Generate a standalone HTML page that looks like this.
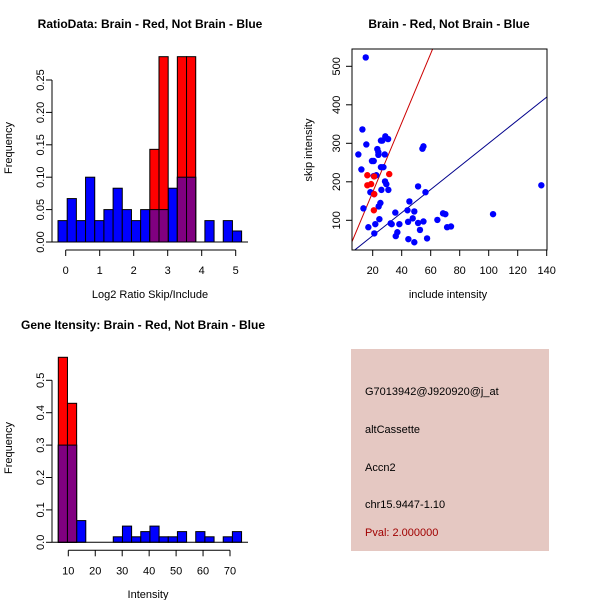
<!DOCTYPE html>
<html><head><meta charset="utf-8"><style>
body{margin:0;background:#fff}
svg{display:block;font-family:"Liberation Sans",sans-serif}
</style></head><body>
<svg id="c" width="600" height="600" viewBox="0 0 600 600">
<rect width="600" height="600" fill="#fff"/>
<g>
<rect x="351" y="349" width="198" height="202" fill="#e5c8c2"/>
<text x="365" y="395" font-size="11">G7013942@J920920@j_at</text>
<text x="365" y="433" font-size="11">altCassette</text>
<text x="365" y="471" font-size="11">Accn2</text>
<text x="365" y="508" font-size="11">chr15.9447-1.10</text>
<text x="365" y="536" font-size="11" fill="#a00000">Pval: 2.000000</text>
</g>
</svg>
<script>
// ---- Ratio histogram data ----
const ratioBinStart = -0.226, ratioBinWidth = 0.27;
const ratioBlue = [0.033,0.067,0.033,0.1,0.033,0.05,0.083,0.05,0.033,0.05,0.05,0.05,0.083,0.1,0.1,0,0.033,0,0.033,0.017];
const ratioRed  = [0,0,0,0,0,0,0,0,0,0,0.143,0.286,0,0.286,0.286,0,0,0,0,0];
const ratioXTicks = [0,1,2,3,4,5];
const ratioYTicks = ["0.00","0.05","0.10","0.15","0.20","0.25"];
// ---- Intensity histogram data ----
const intBinStart = 6.29, intBinWidth = 3.4;
const intBlue = [0.3,0.3,0.067,0,0,0,0.017,0.05,0.017,0.033,0.05,0.017,0.017,0.033,0,0.033,0.017,0,0.017,0.033];
const intRed  = [0.571,0.429,0,0,0,0,0,0,0,0,0,0,0,0,0,0,0,0,0,0];
const intXTicks = [10,20,30,40,50,60,70];
const intYTicks = ["0.0","0.1","0.2","0.3","0.4","0.5"];
// ---- Scatter data ----
const blueX = [15.2,12.9,15.6,10.1,12.2,19.5,20.7,23.2,23.9,23.9,25.7,26.6,28.7,30.6,28.3,25.7,27.4,22.5,20.7,28.5,29.4,30.8,26,18.4,21,25.3,24.1,13.6,24.6,21.8,17,21.1,32.4,33.1,35.6,38.4,37,35.9,44.6,48.7,44.4,47.6,44,48.7,45.3,51.3,52.6,51.3,55,56.4,54.3,55,57.5,64.6,68.5,70.1,71.3,74,103,136.3];
const blueY = [523,336,297,271,232,254,254,285,277,270,307,307,318,311,271,238,238,217,215,201,194,179,179,173,168,145,136,131,103,90,82,66,92,90,120,90,69,59,51,43,96,105,126,123,149,188,75,93,97,173,286,292,53,101,118,116,82,84,116,191];
const redX = [16.3,16.3,18.9,21,21,20.8,31.4];
const redY = [217,191,194,214,168,126,220];
const redLine = [9, -7];   // slope, intercept
const blueLine = [3, 0];
const scXTicks = [20,40,60,80,100,120,140];
const scYTicks = [100,200,300,400,500];

const svg = document.getElementById('c');
const NS = 'http://www.w3.org/2000/svg';
function mk(tag, attrs, parent){const e=document.createElementNS(NS,tag);for(const k in attrs)e.setAttribute(k,attrs[k]);(parent||svg).appendChild(e);return e;}
function txt(x,y,s,size,extra,parent){const t=mk('text',Object.assign({x:x,y:y,'font-size':size,'text-anchor':'middle'},extra||{}),parent);t.textContent=s;return t;}

function hist(g, cfg){
  const sx=v=>cfg.x0+(v-cfg.vx0)*cfg.kx, sy=v=>cfg.y0-v*cfg.ky;
  for(let i=0;i<cfg.blue.length;i++){
    const l=sx(cfg.start+i*cfg.w), r=sx(cfg.start+(i+1)*cfg.w);
    const b=cfg.blue[i];
    if(b>0){const e=mk('rect',{x:l,y:sy(b),width:r-l,height:sy(0)-sy(b),fill:'#0000ff',stroke:'#000','stroke-width':1},g);
      
      }
  }
  for(let i=0;i<cfg.red.length;i++){
    const rv=cfg.red[i]; if(!(rv>0))continue;
    const l=sx(cfg.start+i*cfg.w), r=sx(cfg.start+(i+1)*cfg.w);
    const e=mk('rect',{x:l,y:sy(rv),width:r-l,height:sy(0)-sy(rv),fill:'#ff0000',stroke:'#000','stroke-width':1},g);
    
    
    const m=Math.min(rv,cfg.blue[i]);
    if(m>0){const p=mk('rect',{x:l,y:sy(m),width:r-l,height:sy(0)-sy(m),fill:'#800080',stroke:'#000','stroke-width':1},g);
      
      }
  }
  mk('line',{x1:cfg.plotL,x2:cfg.plotR,y1:sy(0),y2:sy(0),stroke:'#000'},g);
  const yv=cfg.yTicks.map(Number);
  mk('line',{x1:52,x2:52,y1:sy(yv[0]),y2:sy(yv[yv.length-1]),stroke:'#000'},g);
  cfg.yTicks.forEach(t=>{const y=sy(+t);mk('line',{x1:46,x2:52,y1:y,y2:y,stroke:'#000'},g);
    const e=txt(44,y,t,11,{transform:`rotate(-90 44 ${y})`},g);
    
    });
  const xa=cfg.y0+8;
  mk('line',{x1:sx(cfg.xTicks[0]),x2:sx(cfg.xTicks[cfg.xTicks.length-1]),y1:xa,y2:xa,stroke:'#000'},g);
  cfg.xTicks.forEach(t=>{const x=sx(t);mk('line',{x1:x,x2:x,y1:xa,y2:xa+6,stroke:'#000'},g);
    const e=txt(x,xa+24,String(t),11,{},g);
    
    });
}

const g1=mk('g',{});  
hist(g1,{x0:65.7,vx0:0,kx:34,y0:242,ky:648,start:ratioBinStart,w:ratioBinWidth,blue:ratioBlue,red:ratioRed,xTicks:ratioXTicks,yTicks:ratioYTicks,plotL:52,plotR:248});
let t;
t=txt(150,28,'RatioData: Brain - Red, Not Brain - Blue',12,{'font-weight':'bold'},g1);  
t=txt(150,298,'Log2 Ratio Skip/Include',11,{},g1);  
t=txt(12,148,'Frequency',11,{transform:'rotate(-90 12 148)'},g1);  

const g3=mk('g',{});  
hist(g3,{x0:68.3,vx0:10,kx:2.695,y0:542.3,ky:324,start:intBinStart,w:intBinWidth,blue:intBlue,red:intRed,xTicks:intXTicks,yTicks:intYTicks,plotL:52,plotR:248});
t=txt(143,329,'Gene Itensity: Brain - Red, Not Brain - Blue',12,{'font-weight':'bold'},g3);  
t=txt(148,598,'Intensity',11,{},g3);  
t=txt(12,448,'Frequency',11,{transform:'rotate(-90 12 448)'},g3);  

const g2=mk('g',{});  
const L=352,R=547,T=49,B=250;
const sx=v=>343.7+v*1.45, sy=v=>258.8-v*0.385;
mk('clipPath',{id:'cp'},g2); mk('rect',{x:L,y:T,width:R-L,height:B-T},g2.lastChild);
const cg=mk('g',{'clip-path':'url(#cp)'},g2);
function line(p,col,name){const x1=0,x2=150;const e=mk('line',{x1:sx(x1),y1:sy(p[0]*x1+p[1]),x2:sx(x2),y2:sy(p[0]*x2+p[1]),stroke:col,'stroke-width':1},cg);
  
  }
line(redLine,'#cc0000','red-fit-line');
line(blueLine,'#00008b','blue-fit-line');
blueX.forEach((x,i)=>{const e=mk('circle',{cx:sx(x),cy:sy(blueY[i]),r:3.2,fill:'#0000ff'},cg);
  
  });
redX.forEach((x,i)=>{const e=mk('circle',{cx:sx(x),cy:sy(redY[i]),r:3.2,fill:'#ff0000'},cg);
  
  });
mk('rect',{x:L,y:T,width:R-L,height:B-T,fill:'none',stroke:'#000'},g2);
scXTicks.forEach(v=>{const x=sx(v);mk('line',{x1:x,x2:x,y1:B,y2:B+6,stroke:'#000'},g2);
  const e=txt(x,B+24,String(v),11,{},g2);
  
  });
scYTicks.forEach(v=>{const y=sy(v);mk('line',{x1:L-6,x2:L,y1:y,y2:y,stroke:'#000'},g2);
  const e=txt(340,y,String(v),11,{transform:`rotate(-90 340 ${y})`},g2);
  
  });
t=txt(449,28,'Brain - Red, Not Brain - Blue',12,{'font-weight':'bold'},g2);  
t=txt(448,298,'include intensity',11,{},g2);  
t=txt(312,150,'skip intensity',11,{transform:'rotate(-90 312 150)'},g2);  
</script>
</body></html>
